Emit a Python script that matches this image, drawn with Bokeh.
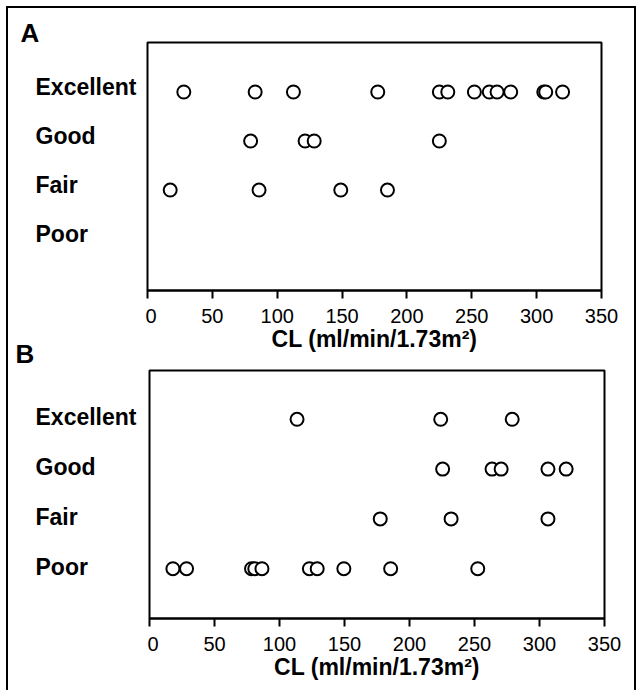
from bokeh.plotting import figure
from bokeh.models import Range1d, FixedTicker, ColumnDataSource
from bokeh.core.properties import value
from bokeh.layouts import column, row
from bokeh.embed import file_html
from bokeh.resources import INLINE

# ---------------- data ----------------
categories = ["Excellent", "Good", "Fair", "Poor"]
x_ticks = [0, 50, 100, 150, 200, 250, 300, 350]
x_title = "CL (ml/min/1.73m\u00b2)"
panel_letters = ["A", "B"]

# Panel A
a_excellent = [28, 83, 112.5, 177.5, 225, 231.5, 252, 263.5, 269.5, 280, 305.5, 307, 320]
a_good = [79.5, 121.5, 128.5, 225]
a_fair = [17.5, 86, 149, 185]
a_poor = []

# Panel B
b_excellent = [113.5, 224, 279]
b_good = [225.5, 263.5, 270.5, 306.5, 320.5]
b_fair = [177.5, 232, 306.5]
b_poor = [18, 28.5, 78.5, 81, 86.5, 123, 129, 149.5, 185.5, 252.5]

FONT = "Liberation Sans"


def ypos(cat):
    return len(categories) - 1 - categories.index(cat)


def build_source(series):
    xs, ys = [], []
    for cat, vals in zip(categories, series):
        for v in vals:
            xs.append(v)
            ys.append(ypos(cat))
    return ColumnDataSource(dict(x=xs, y=ys))


def make_plot(series, width, height, mb_right, mb_top, mb_bottom, y_lo, y_hi):
    p = figure(width=width, height=height, output_backend="svg",
               toolbar_location=None, x_range=Range1d(0, 350),
               y_range=Range1d(y_lo, y_hi),
               min_border_left=2, min_border_right=mb_right,
               min_border_top=mb_top, min_border_bottom=mb_bottom)
    p.frame_align = False
    p.background_fill_color = "white"
    p.border_fill_color = "white"
    p.outline_line_color = "black"
    p.outline_line_width = 2
    p.xgrid.visible = False
    p.ygrid.visible = False
    p.yaxis.visible = False

    ax = p.xaxis[0]
    ax.ticker = FixedTicker(ticks=x_ticks)
    ax.axis_line_width = 2
    ax.axis_line_color = "black"
    ax.major_tick_line_width = 2
    ax.major_tick_line_color = "black"
    ax.major_tick_out = 8
    ax.major_tick_in = 0
    ax.minor_tick_out = 0
    ax.minor_tick_in = 0
    ax.major_label_standoff = 10
    ax.major_label_text_font = FONT
    ax.major_label_text_font_size = "20px"
    ax.major_label_text_color = "black"
    ax.axis_label = x_title
    ax.axis_label_standoff = 0
    ax.axis_label_text_font = FONT
    ax.axis_label_text_font_size = "23px"
    ax.axis_label_text_font_style = "bold"
    ax.axis_label_text_color = "black"

    src = build_source(series)
    p.scatter("x", "y", source=src, marker="circle", size=13,
              fill_color="white", line_color="black", line_width=2)
    return p


def make_labels(width, height, mb_top, frame_h, y_lo, y_hi, text_x, dy):
    # a label strip whose y scale is identical to the plot next to it
    ppu = frame_h / (y_hi - y_lo)
    top = y_hi + mb_top / ppu
    bot = y_hi - (height - mb_top) / ppu
    lf = figure(width=width, height=height, output_backend="svg",
                toolbar_location=None, x_range=Range1d(0, width),
                y_range=Range1d(bot, top), x_axis_type=None, y_axis_type=None,
                min_border_left=0, min_border_right=0,
                min_border_top=0, min_border_bottom=0)
    lf.frame_align = False
    lf.outline_line_color = None
    lf.xgrid.visible = False
    lf.ygrid.visible = False
    lf.background_fill_color = "white"
    lf.border_fill_color = "white"
    src = ColumnDataSource(dict(x=[text_x] * len(categories),
                                y=[ypos(c) for c in categories],
                                t=categories))
    lf.text("x", "y", text="t", source=src, text_align="left",
            text_baseline="middle", y_offset=dy,
            text_font=value(FONT), text_font_size=value("23px"),
            text_font_style="bold", text_color="black")
    return lf


YA = (-1.05, 4.01)
YB = (-1.0, 3.98)

pa = make_plot([a_excellent, a_good, a_fair, a_poor], 489, 360, 33, 34, 78, *YA)
la = make_labels(137, 360, 34, 248, *YA, 27, -5)
pb = make_plot([b_excellent, b_good, b_fair, b_poor], 487, 322, 30, 2, 72, *YB)
lb = make_labels(139, 322, 2, 248, *YB, 27, -2)

# panel letters (A above frame A, B below axis A)
letters = ColumnDataSource(dict(x=[12, 7], y=[YA[1], YA[0]], t=panel_letters,
                                dy=[-10, 63]))
la.text("x", "y", text="t", source=letters, y_offset="dy", text_align="left",
        text_baseline="middle", text_font=value(FONT),
        text_font_size=value("26px"), text_font_style="bold", text_color="black")

layout = column(row(la, pa, spacing=0), row(lb, pb, spacing=0), spacing=0,
                styles={"margin-left": "6px", "margin-top": "6px",
                        "border-left": "2px solid black",
                        "border-right": "2px solid black",
                        "border-top": "2px solid black"})

open("out.html", "w").write(file_html(layout, INLINE))
